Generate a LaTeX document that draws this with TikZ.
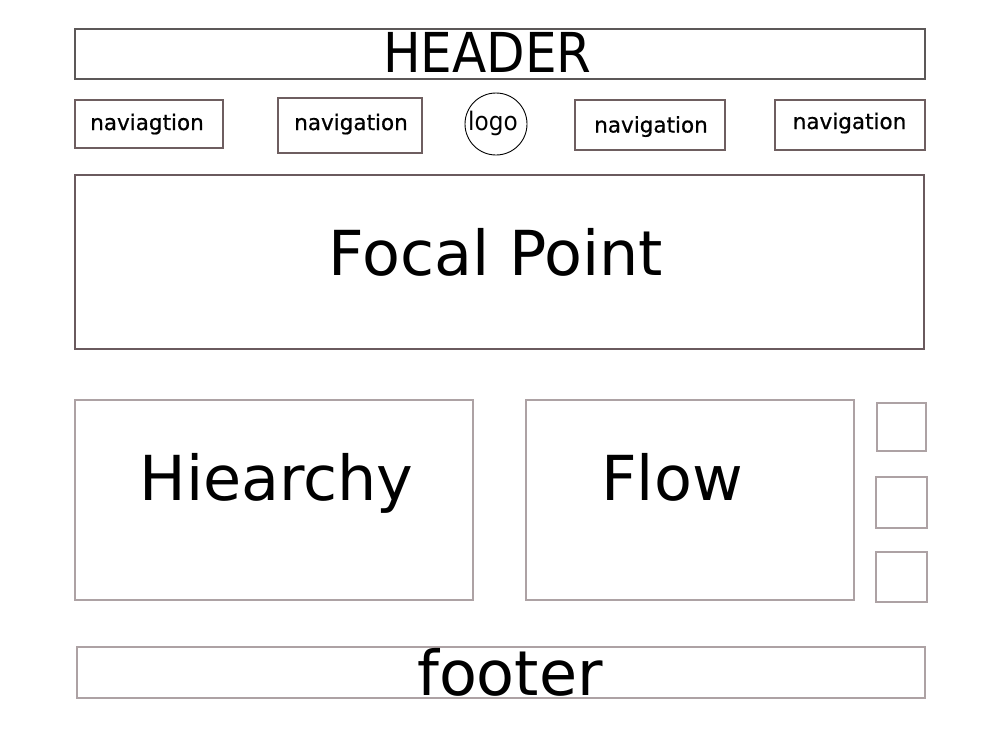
\documentclass[tikz,border=0pt]{standalone}
\usepackage{fontspec}
\setmainfont{DejaVu Sans}
\newfontfamily\condfont[FakeStretch=0.91]{DejaVu Sans}
\newfontfamily\navfont[FakeBold=0.7]{DejaVu Sans}
\definecolor{hdrc}{HTML}{5C5858}
\definecolor{navc}{HTML}{6E5E60}
\definecolor{focc}{HTML}{6A5A5E}
\definecolor{lightc}{HTML}{ADA2A4}
\begin{document}
\begin{tikzpicture}[x=1pt,y=-1pt,
  box/.style={draw=#1, line width=1.4pt, inner sep=0pt, outer sep=0pt},
  txt/.style={anchor=base, inner sep=0pt, font=#1},
  big/.style={txt=\fontsize{62}{70}\selectfont},
  navtxt/.style={txt=\navfont\fontsize{21.5}{26}\selectfont}]
\useasboundingbox (0,0) rectangle (1000,750);
\fill[white] (0,0) rectangle (1000,750);

% header
\node[box=hdrc, minimum width=850pt, minimum height=50pt] (header) at (500,54) {};
\node[txt=\condfont\fontsize{55}{60}\selectfont] (headert) at (487.5,72) {HEADER};

% navigation row
\node[box=navc, minimum width=148pt, minimum height=48pt] (nav1) at (149,124) {};
\node[box=navc, minimum width=144pt, minimum height=55pt] (nav2) at (350,125.5) {};
\node[box=navc, minimum width=150pt, minimum height=50pt] (nav3) at (650,125) {};
\node[box=navc, minimum width=150pt, minimum height=50pt] (nav4) at (850,125) {};
\node[navtxt] (nav1t) at (147,130) {naviagtion};
\node[navtxt] (nav2t) at (351,130) {navigation};
\node[navtxt] (nav3t) at (651,132.5) {navigation};
\node[navtxt] (nav4t) at (849.5,129) {navigation};

% logo
\node[draw=black, line width=0.9pt, circle, minimum size=62pt, inner sep=0pt] (logo) at (496,124) {};
\node[txt=\condfont\fontsize{25.5}{30}\selectfont] (logot) at (493,130) {logo};

% focal point
\node[box=focc, minimum width=849pt, minimum height=174pt] (focal) at (499.5,262) {};
\node[big] (focalt) at (496,275) {Focal Point};

% hierarchy and flow
\node[box=lightc, minimum width=398pt, minimum height=200pt] (hier) at (274,500) {};
\node[big] (hiert) at (276.5,500) {Hiearchy};
\node[box=lightc, minimum width=328pt, minimum height=200pt] (flow) at (690,500) {};
\node[big] (flowt) at (672,500) {Flow};

% small squares
\node[box=lightc, minimum width=49pt, minimum height=48pt] (sq1) at (901.5,427) {};
\node[box=lightc, minimum width=51pt, minimum height=51pt] (sq2) at (901.5,502.5) {};
\node[box=lightc, minimum width=51pt, minimum height=50pt] (sq3) at (901.5,577) {};

% footer
\node[box=lightc, minimum width=848pt, minimum height=51pt] (footer) at (501,672.5) {};
\node[big] (footert) at (510,695) {footer};
\end{tikzpicture}
\end{document}
